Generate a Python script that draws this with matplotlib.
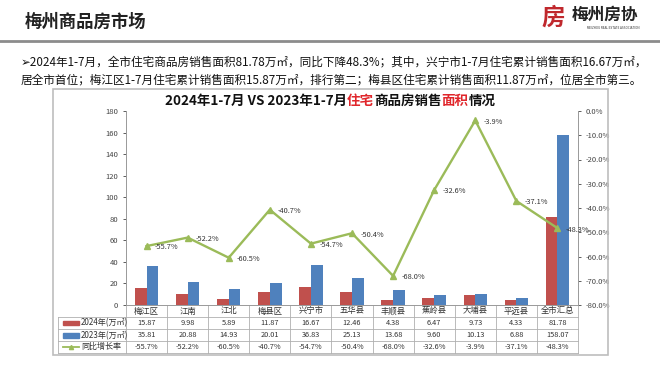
import matplotlib
matplotlib.use('Agg')
import matplotlib.pyplot as plt
import matplotlib.transforms as mtransforms
from matplotlib.patches import Rectangle
from matplotlib.lines import Line2D
import numpy as np

plt.rcParams['font.family'] = ['Noto Sans CJK SC', 'DejaVu Sans']

# data
areas = ['梅江区', '江南', '江北', '梅县区', '兴宁市', '五华县', '丰顺县', '蕉岭县', '大埔县', '平远县', '全市汇总']
sales_2024 = [15.87, 9.98, 5.89, 11.87, 16.67, 12.46, 4.38, 6.47, 9.73, 4.33, 81.78]
sales_2023 = [35.81, 20.88, 14.93, 20.01, 36.83, 25.13, 13.68, 9.60, 10.13, 6.88, 158.07]
yoy = [-55.7, -52.2, -60.5, -40.7, -54.7, -50.4, -68.0, -32.6, -3.9, -37.1, -48.3]
row_names = ['2024年(万㎡)', '2023年(万㎡)', '同比增长率']

RED = '#C0504D'
BLUE = '#4F81BD'
GREEN = '#9BBB59'
W, H = 660, 372

fig = plt.figure(figsize=(6.6, 3.72), dpi=100)
fig.patch.set_facecolor('white')

# header
fig.text(25 / W, 1 - 22 / H, '梅州商品房市场', fontsize=12.5, fontweight='bold', color='#222222', va='center')
fig.add_artist(Line2D([0, 1], [1 - 41 / H] * 2, color='#8c8c8c', lw=2))
fig.text(541 / W, 1 - 18 / H, '房', fontsize=17, fontweight='bold', color='#c0282d', va='center')
fig.text(572 / W, 1 - 15 / H, '梅州房协', fontsize=12, style='italic', fontweight='bold', color='#222222', va='center')
fig.text(613 / W, 1 - 28 / H, 'MEIZHOU REAL ESTATE ASSOCIATION', fontsize=2.2, color='#333333', ha='center', va='center')

line1 = '➢2024年1-7月，全市住宅商品房销售面积81.78万㎡，同比下降48.3%；其中，兴宁市1-7月住宅累计销售面积16.67万㎡，'
line2 = '居全市首位；梅江区1-7月住宅累计销售面积15.87万㎡，排行第二；梅县区住宅累计销售面积11.87万㎡，位居全市第三。'
fig.text(21 / W, 1 - 62 / H, line1, fontsize=8.4, color='#111111', va='center')
fig.text(21 / W, 1 - 80 / H, line2, fontsize=8.4, color='#111111', va='center')

# chart box
fig.add_artist(Rectangle((53 / W, 1 - 355 / H), 555 / W, 266 / H, transform=fig.transFigure,
                         fill=False, edgecolor='#bdbdbd', lw=1.2))

# title with red words
parts = [('2024年1-7月 VS 2023年1-7月', '#111111'), ('住宅', '#e0262b'), ('商品房销售', '#111111'),
         ('面积', '#e0262b'), ('情况', '#111111')]
tx = 165 / W
for s, c in parts:
    t = fig.text(tx, 1 - 101 / H, s, fontsize=9.7, fontweight='bold', color=c, va='center')
    fig.canvas.draw()
    bb = t.get_window_extent()
    tx = bb.x1 / W

# axes
x0, x1, ytop, ybot = 126, 578, 111, 305
ax = fig.add_axes([x0 / W, 1 - ybot / H, (x1 - x0) / W, (ybot - ytop) / H])
x = np.arange(len(areas))
bw = 0.285
ax.bar(x - bw / 2, sales_2024, bw, color=RED, zorder=2)
ax.bar(x + bw / 2, sales_2023, bw, color=BLUE, zorder=2)
ax.set_xlim(-0.5, len(areas) - 0.5)
ax.set_ylim(0, 180)
ax.set_yticks(np.arange(0, 181, 20))
ax.set_xticks([])
ax.tick_params(axis='y', labelsize=5.5, colors='#444444', length=2, width=0.6)
for sp in ['top', 'right']:
    ax.spines[sp].set_visible(False)
for sp in ['left', 'bottom']:
    ax.spines[sp].set_color('#999999')
    ax.spines[sp].set_linewidth(0.7)

ax2 = ax.twinx()
ax2.plot(x, yoy, color=GREEN, lw=1.7, marker='^', ms=5, zorder=3)
ax2.set_ylim(-80, 0)
ax2.set_yticks(np.arange(-80, 1, 10))
ax2.set_yticklabels([f'{v:.1f}%' for v in np.arange(-80, 1, 10)])
ax2.tick_params(axis='y', labelsize=5.5, colors='#444444', length=2, width=0.6)
for sp in ['top', 'left', 'bottom']:
    ax2.spines[sp].set_visible(False)
ax2.spines['right'].set_color('#999999')
ax2.spines['right'].set_linewidth(0.7)
for xi, v in zip(x, yoy):
    ax2.annotate(f'{v:.1f}%', (xi, v), xytext=(6, -1), textcoords='offset points',
                 fontsize=5.3, color='#333333', ha='left', va='center', zorder=4)

# data table under the axes (x in data, y in axes fraction)
trans = mtransforms.blended_transform_factory(ax.transData, ax.transAxes)
ph = ybot - ytop
def yf(py):
    return (ybot - py) / ph
left_x = (58 - x0) / ((x1 - x0) / len(areas)) - 0.5
right_x = len(areas) - 0.5
grid_kw = dict(transform=trans, color='#b0b0b0', lw=0.6, clip_on=False)
for py in [316.7, 329.3, 341, 352.5]:
    ax.add_line(Line2D([left_x, right_x], [yf(py)] * 2, **grid_kw))
for b in np.arange(-0.5, len(areas)):
    ax.add_line(Line2D([b, b], [yf(305), yf(352.5)], **grid_kw))
ax.add_line(Line2D([left_x, left_x], [yf(316.7), yf(352.5)], **grid_kw))

row_y = [yf(323), yf(335.2), yf(346.8)]
cell_kw = dict(transform=trans, fontsize=5.3, color='#333333', ha='center', va='center', clip_on=False)
for xi, name in zip(x, areas):
    ax.text(xi, yf(311), name, fontsize=6, color='#333333', ha='center', va='center',
            transform=trans, clip_on=False)
for xi, a, b, c in zip(x, sales_2024, sales_2023, yoy):
    ax.text(xi, row_y[0], f'{a:.2f}', **cell_kw)
    ax.text(xi, row_y[1], f'{b:.2f}', **cell_kw)
    ax.text(xi, row_y[2], f'{c:.1f}%', **cell_kw)

# legend keys in the first column
sw0, sw1 = left_x + 0.12, left_x + 0.5
for yy, col in zip(row_y[:2], [RED, BLUE]):
    ax.add_patch(Rectangle((sw0, yy - 0.012), sw1 - sw0, 0.024, transform=trans, color=col, clip_on=False))
ax.add_line(Line2D([sw0, sw1], [row_y[2]] * 2, transform=trans, color=GREEN, lw=1.3, clip_on=False))
ax.plot([(sw0 + sw1) / 2], [row_y[2]], transform=trans, marker='^', ms=3, color=GREEN, clip_on=False)
for yy, name in zip(row_y, row_names):
    ax.text(sw1 + 0.06, yy, name, fontsize=5.8, color='#333333', ha='left', va='center',
            transform=trans, clip_on=False)

fig.savefig('out.png', dpi=100, facecolor='white')
